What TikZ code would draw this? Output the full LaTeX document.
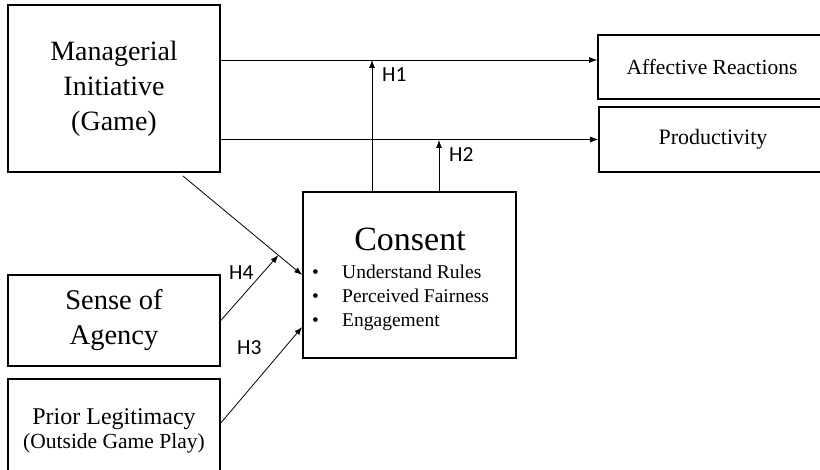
\documentclass[tikz,border=0pt]{standalone}
\usepackage{fontspec}
\setmainfont{Liberation Serif}
\newfontfamily\hfont{Carlito}
\usetikzlibrary{arrows.meta,calc}
\tikzset{
  box/.style={draw=black, line width=1.6pt, rectangle, inner sep=0pt, align=center},
  link/.style={draw=black, line width=0.8pt, -{Latex[length=8pt,width=6pt]}},
  hlab/.style={inner sep=0pt, anchor=base west, font=\hfont\fontsize{21.5}{24}\selectfont},
  bul/.style={inner sep=0pt, anchor=base west, font=\fontsize{19.5}{24}\selectfont}
}
\begin{document}
\begin{tikzpicture}[x=1pt,y=-1pt]
\useasboundingbox (0,0) rectangle (820,470);
% boxes
\node[box, minimum width=212pt, minimum height=167pt, font=\fontsize{28}{35}\selectfont] (mg) at (114,88.5) {Managerial\\Initiative\\(Game)};
\node[box, minimum width=228pt, minimum height=64pt, font=\fontsize{21.5}{25}\selectfont] (aff) at (712,67) {Affective Reactions};
\node[box, minimum width=228pt, minimum height=65pt, font=\fontsize{22}{25}\selectfont] (prod) at (713,139.5) {Productivity};
\node[box, minimum width=213pt, minimum height=166pt] (cons) at (409.5,275) {};
\node[box, minimum width=212pt, minimum height=91pt, font=\fontsize{28.5}{35}\selectfont] (sense) at (114,320.5) {Sense of\\Agency};
\node[box, minimum width=212pt, minimum height=104pt, font=\fontsize{24}{23.5}\selectfont] (prior) at (114,431) {Prior Legitimacy\\{\fontsize{21.5}{23.5}\selectfont(Outside Game Play)}};
% consent content
\node[inner sep=0pt, anchor=base, font=\fontsize{34}{36}\selectfont] (ctitle) at (410,251) {Consent};
\node[bul] (b1) at (312,279) {\makebox[30pt][l]{\textbullet}Understand Rules};
\node[bul] (b2) at (312,303) {\makebox[30pt][l]{\textbullet}Perceived Fairness};
\node[bul] (b3) at (312,327) {\makebox[30pt][l]{\textbullet}Engagement};
% connector end points
\coordinate (h1end) at (372,60);
\coordinate (h2end) at (439,140);
\coordinate (mgout) at (183,176);
\coordinate (priorin) at (303,327);
% connectors
\draw[link] (mg.east |- h1end) -- (aff.west |- h1end);
\draw[link] (mg.east |- prod.west) -- (prod.west);
\draw[link] (cons.north -| h1end) -- (h1end);
\draw[link] (cons.north -| h2end) -- (h2end);
\draw[link] (mgout) -- (cons.west);
\draw[link] (sense.east) -- ($(mgout)!0.8!(cons.west)$);
\draw[link] ([yshift=8pt]prior.east) -- (cons.west |- priorin);
% labels
\node[hlab] (H1) at (382,82) {H1};
\node[hlab] (H2) at (449,162) {H2};
\node[hlab] (H4) at (229,280) {H4};
\node[hlab] (H3) at (237,355) {H3};
\end{tikzpicture}
\end{document}
